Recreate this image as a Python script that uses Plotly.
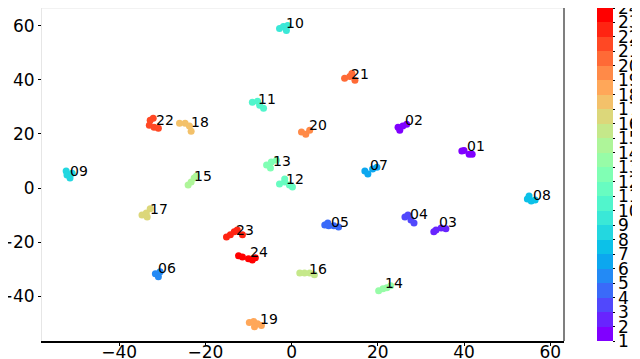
import numpy as np
import plotly.graph_objects as go

# cluster ids (1..24) and a few points per cluster
class_ids = list(range(1, 25))
class_names = ["%02d" % k for k in class_ids]

cluster_x = [
    [39.5, 41.2, 41.9, 40.0],
    [24.7, 25.8, 26.7, 25.1],
    [33.0, 33.5, 34.7, 35.8],
    [26.3, 27.0, 27.7, 28.4],
    [7.7, 8.6, 9.8, 10.9, 8.4],
    [-31.6, -30.9, -30.5],
    [17.0, 17.7, 18.8, 19.8],
    [54.7, 55.6, 55.1, 56.5],
    [-52.3, -52.1, -51.4, -50.9],
    [-2.8, -1.9, -0.9, -1.2],
    [-9.1, -7.9, -7.4, -6.5],
    [-2.8, -1.6, -0.5, 0.2, -1.6],
    [-5.8, -4.7, -3.5, -4.9],
    [20.2, 21.2, 22.1, 23.0],
    [-24.0, -23.3, -22.6, -22.1],
    [1.9, 3.0, 4.2, 5.3],
    [-34.7, -33.7, -32.8, -33.5],
    [-26.0, -24.7, -23.7, -23.3],
    [-9.8, -8.8, -7.9, -7.0, -8.6],
    [2.3, 3.3, 4.2],
    [12.3, 13.5, 14.7, 14.0],
    [-32.8, -33.0, -31.9, -30.9, -32.1],
    [-15.1, -14.2, -13.3, -12.6, -11.4],
    [-12.3, -11.4, -10.0, -9.1, -8.4],
]
cluster_y = [
    [13.7, 12.5, 12.5, 13.9],
    [22.5, 22.9, 23.6, 21.4],
    [-16.2, -15.5, -14.8, -15.1],
    [-10.7, -10.0, -11.8, -12.9],
    [-13.7, -14.0, -14.0, -14.4, -12.9],
    [-31.7, -32.8, -31.0],
    [6.3, 5.2, 7.0, 7.7],
    [-4.1, -4.8, -3.0, -4.4],
    [6.3, 4.8, 3.7, 5.5],
    [59.0, 59.8, 60.1, 58.3],
    [31.7, 32.1, 30.6, 29.5],
    [1.5, 2.2, 1.1, 0.4, 3.3],
    [8.5, 9.6, 10.3, 7.4],
    [-38.0, -37.3, -36.9, -36.2],
    [1.1, 2.2, 3.7, 4.4],
    [-31.4, -31.4, -31.4, -32.1],
    [-10.0, -9.2, -7.7, -10.7],
    [24.0, 24.0, 22.9, 21.0],
    [-49.8, -49.4, -50.2, -50.9, -51.3],
    [20.7, 19.9, 21.4],
    [40.6, 41.3, 39.9, 42.4],
    [25.1, 23.2, 22.5, 22.1, 25.8],
    [-18.1, -17.3, -16.2, -15.5, -17.3],
    [-25.1, -25.5, -26.2, -26.6, -25.8],
]

# where each cluster's number is written
label_x = [40.7, 26.4, 34.1, 27.5, 9.1, -30.9, 18.2, 56.0, -51.4, -1.4, -7.7, -1.2,
           -4.3, 21.6, -22.7, 4.0, -32.8, -23.3, -7.4, 4.0, 13.9, -31.4, -12.8, -9.7]
label_y = [15.4, 25.1, -12.6, -9.6, -12.4, -29.6, 8.5, -2.5, 6.4, 61.0, 33.1, 3.4,
           10.1, -35.2, 4.6, -29.8, -7.7, 24.3, -48.3, 23.3, 42.1, 25.1, -15.7, -23.7]

x_ticks = [-40, -20, 0, 20, 40, 60]
y_ticks = [-40, -20, 0, 20, 40, 60]


def rainbow(t):
    # matplotlib 'rainbow'
    r = min(1.0, abs(2 * t - 0.5))
    g = np.sin(np.pi * t)
    b = np.cos(np.pi * t / 2)
    return "rgb(%d,%d,%d)" % (round(r * 255), round(g * 255), round(max(b, 0) * 255))


n_bands = 23
band_colors = [rainbow(j / (n_bands - 1)) for j in range(n_bands)]
scale = []
for j, c in enumerate(band_colors):
    scale.append([j / n_bands, c])
    scale.append([(j + 1) / n_bands, c])

FONT = "DejaVu Sans"
fig = go.Figure()

for k, xs, ys in zip(class_ids, cluster_x, cluster_y):
    col = band_colors[max(k - 2, 0)]
    fig.add_trace(go.Scatter(x=xs, y=ys, mode="markers",
                             marker=dict(size=7, color=col, line=dict(width=0)),
                             showlegend=False, hoverinfo="skip"))

# dummy trace for the colorbar
cmin, cmax = class_ids[0], class_ids[-1]
fig.add_trace(go.Scatter(
    x=[None], y=[None], mode="markers", showlegend=False,
    marker=dict(color=[cmin, cmax], cmin=cmin, cmax=cmax, colorscale=scale, showscale=True,
                colorbar=dict(
                    x=1.063, xanchor="left", y=0.5, yanchor="middle",
                    len=1, lenmode="fraction", thickness=16, thicknessmode="pixels",
                    xpad=0, ypad=0, outlinewidth=0,
                    tickmode="array", tickvals=class_ids, showticklabels=False,
                    ticks="outside", ticklen=2, tickcolor="black",
                ))))

# colorbar tick labels placed next to the bar (matplotlib puts them tight to it)
for k in class_ids:
    fig.add_annotation(xref="paper", yref="paper", x=1.1015, y=(k - cmin) / (cmax - cmin),
                       text=str(k), showarrow=False, xanchor="left", yanchor="middle",
                       font=dict(family=FONT, size=17, color="black"), borderpad=0)

for name, lx, ly in zip(class_names, label_x, label_y):
    fig.add_annotation(x=lx, y=ly, text=name, showarrow=False, xanchor="left",
                       yanchor="middle", font=dict(family=FONT, size=14, color="black"),
                       borderpad=0, xshift=-1)

fig.update_xaxes(range=[-57.9, 63.2], tickvals=x_ticks, ticktext=["\u2212" + str(-v) if v < 0 else str(v) for v in x_ticks],
                 showgrid=False, zeroline=False, showline=True, linecolor="black", linewidth=1.5,
                 ticks="outside", ticklen=3, tickcolor="black", ticklabelstandoff=-8,
                 tickfont=dict(family=FONT, size=17, color="black"))
fig.update_yaxes(range=[-56.6, 66.6], tickvals=y_ticks, ticktext=["\u2212" + str(-v) if v < 0 else str(v) for v in y_ticks],
                 showgrid=False, zeroline=False, showline=True, linecolor="#e6e6e6", linewidth=1,
                 ticks="outside", ticklen=3, tickcolor="black",
                 tickfont=dict(family=FONT, size=17, color="black"))

# top and right spines
fig.add_shape(type="line", xref="paper", yref="paper", x0=0, x1=1, y0=1, y1=1,
              line=dict(color="#e6e6e6", width=1))
fig.add_shape(type="line", xref="paper", yref="paper", x0=1, x1=1, y0=0, y1=1,
              line=dict(color="#555555", width=1.5))

# the page body adds an 8px margin, so the figure is 8px smaller each way
fig.update_layout(width=632, height=351,
                  margin=dict(l=34, r=76, t=0, b=18, autoexpand=False),
                  plot_bgcolor="white", paper_bgcolor="white",
                  font=dict(family=FONT))

fig.write_html("out.html")
